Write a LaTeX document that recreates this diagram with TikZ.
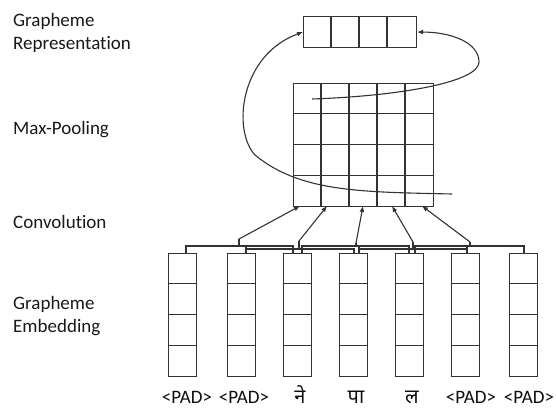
\documentclass[tikz,border=0pt]{standalone}
\usepackage{fontspec}
\setmainfont{Carlito}[Ligatures=NoCommon]
\newfontfamily\deva[Script=Devanagari]{Noto Sans}
\usetikzlibrary{arrows.meta,calc}
\begin{document}
\begin{tikzpicture}[x=1pt,y=-1pt,
  ln/.style={draw=black!80, line width=1.1pt},
  arr/.style={ln, -{Latex[length=6pt,width=5pt]}},
  lbl/.style={inner sep=0pt, text=black!90, font=\fontsize{19}{23}\selectfont, align=left},
  tok/.style={inner sep=0pt, text=black!95, font=\fontsize{19}{23}\selectfont, anchor=base},
  box/.style={ln, inner sep=0pt, rectangle, anchor=north west}
]
\useasboundingbox (0,0) rectangle (556,414);

% labels
\node[lbl, anchor=north west] (l1) at (13,13) {Grapheme\\Representation};
\node[lbl, anchor=base west] (l2) at (13,135) {Max-Pooling};
\node[lbl, anchor=base west] (l3) at (13,228) {Convolution};
\node[lbl, anchor=north west] (l4) at (13,296) {Grapheme\\Embedding};

% grapheme representation
\node[box, minimum width=113pt, minimum height=31pt] (rep) at (303,16) {};
\foreach \x in {331,359,387} \draw[ln] (\x,16) -- (\x,47);

% max pooling grid
\node[box, minimum width=140pt, minimum height=123pt] (pool) at (293,83) {};
\foreach \x in {321,349,377,405} \draw[ln] (\x,83) -- (\x,206);
\foreach \y in {113.75,144.5,175.25} \draw[ln] (293,\y) -- (433,\y);

% embedding columns
\foreach \i/\l in {1/168,2/227,3/283,4/339,5/395,6/451,7/509} {
  \node[box, minimum width=28pt, minimum height=123pt] (e\i) at (\l,253) {};
  \foreach \y in {283.75,314.5,345.25} \draw[ln] (\l,\y) -- ++(28,0);
}

% tokens
\node[tok] (t1) at (187,403) {<PAD>};
\node[tok] (t2) at (244,403) {<PAD>};
\node[tok, font=\deva\fontsize{20}{23}\selectfont] (t3) at (300,403) {ने};
\node[tok, font=\deva\fontsize{20}{23}\selectfont] (t4) at (356,403) {पा};
\node[tok, font=\deva\fontsize{20}{23}\selectfont] (t5) at (412,403) {ल};
\node[tok] (t6) at (471,403) {<PAD>};
\node[tok] (t7) at (529,403) {<PAD>};

% convolution brackets and arrows
\foreach \k/\yy/\a/\b/\c/\t/\ty/\ex in {1/246/186/246/293/239/239/300, 2/249/246/302/354/299/241/327, 3/246/302/359/409/356/243/363, 4/249/359/415/467/413/242/392, 5/246/415/467/524/470/242/422} {
  \draw[ln] (\a,253) -- (\a,\yy) -- (\c,\yy) -- (\c,253);
  \draw[ln] (\b,\yy) -- (\b,253);
  \coordinate (cs\k) at (\t,\ty);
  \coordinate (ce\k) at (\ex,206);
  \draw[ln] (\t,\yy) -- (cs\k);
  \draw[arr] (cs\k) -- (ce\k);
}

% pooling curves
\coordinate (lc) at (452,194);
\draw[arr] (lc) .. controls (360,192) and (300,192) .. (255,155) .. controls (232,130) and (240,55) .. (rep.west);
\coordinate (rc) at (312,99);
\draw[arr] (rc) .. controls (400,96) and (479,82) .. (479,62) .. controls (479,42) and (450,32) .. (rep.east);
\end{tikzpicture}
\end{document}
